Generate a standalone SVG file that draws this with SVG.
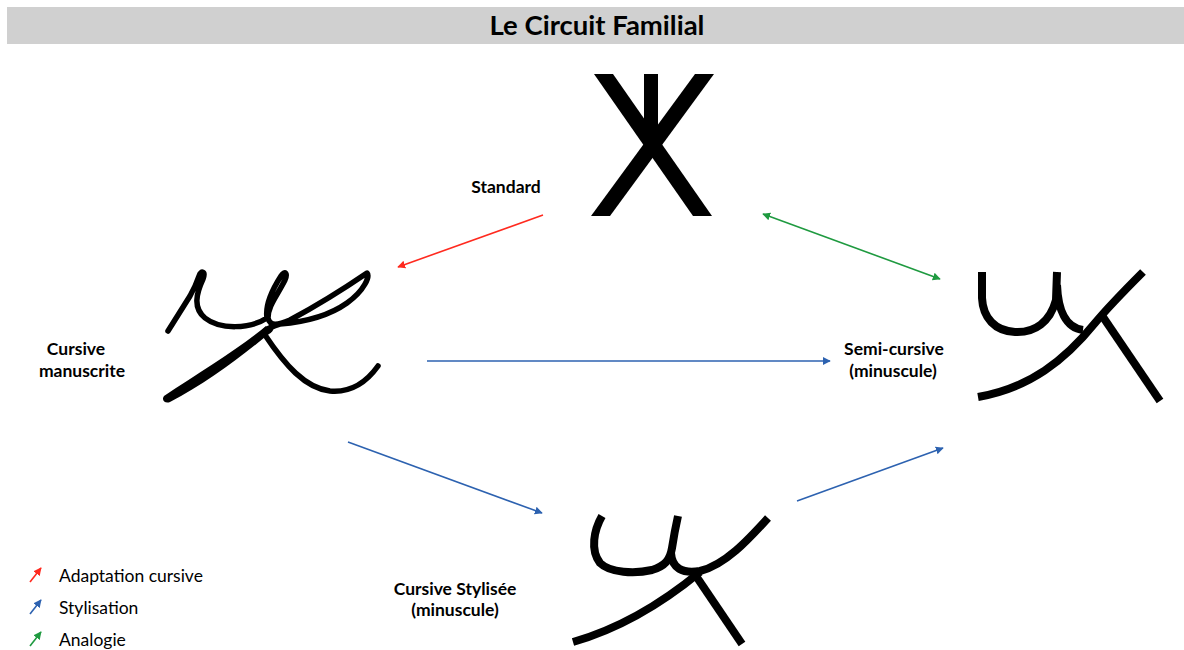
<svg xmlns="http://www.w3.org/2000/svg" width="1184" height="650" viewBox="0 0 1184 650">
<defs>
<marker id="mr" viewBox="0 0 10 10" refX="9" refY="5" markerWidth="5" markerHeight="5" orient="auto-start-reverse"><path d="M0,0 L10,5 L0,10 Z" fill="#ff2a1f"/></marker>
<marker id="mb" viewBox="0 0 10 10" refX="9" refY="5" markerWidth="5" markerHeight="5" orient="auto-start-reverse"><path d="M0,0 L10,5 L0,10 Z" fill="#2d62b0"/></marker>
<marker id="mg" viewBox="0 0 10 10" refX="9" refY="5" markerWidth="5" markerHeight="5" orient="auto-start-reverse"><path d="M0,0 L10,5 L0,10 Z" fill="#1f9a40"/></marker>
</defs>
<style>
.lbl{font-family:Lato,"Liberation Sans",sans-serif;font-weight:bold;font-size:17.5px;fill:#000;text-anchor:middle}
.leg{font-family:Lato,"Liberation Sans",sans-serif;font-size:17.5px;fill:#000}
.g{fill:none;stroke:#000;stroke-linejoin:round}
.red{stroke:#ff2a1f;stroke-width:1.6;fill:none}
.blue{stroke:#2d62b0;stroke-width:1.6;fill:none}
.green{stroke:#1f9a40;stroke-width:1.6;fill:none}
</style>
<rect width="1184" height="650" fill="#fff"/>
<g id="title">
<rect x="7" y="7" width="1177" height="37" fill="#d0d0d0"/>
<text x="597" y="35" font-family="Lato,'Liberation Sans',sans-serif" font-weight="bold" font-size="27.5" text-anchor="middle">Le Circuit Familial</text>
</g>
<g id="connectors">
<line class="red" x1="543" y1="215" x2="398" y2="267" marker-end="url(#mr)"/>
<line class="green" x1="763" y1="214" x2="940" y2="279" marker-start="url(#mg)" marker-end="url(#mg)"/>
<line class="blue" x1="427" y1="361" x2="830" y2="361" marker-end="url(#mb)"/>
<line class="blue" x1="348" y1="442" x2="542" y2="513" marker-end="url(#mb)"/>
<line class="blue" x1="797" y1="501" x2="943" y2="448" marker-end="url(#mb)"/>
</g>
<g id="standard">
<polygon points="594,74 613,74 712,216 693,216" fill="#000"/>
<polygon points="695,74 714,74 610,216 591,216" fill="#000"/>
<rect x="644" y="74" width="14" height="82" fill="#000"/>
<text class="lbl" x="506" y="193">Standard</text>
</g>
<g id="cursive-manuscrite">
<g class="g" stroke-width="5.5" stroke-linecap="round">
<path d="M168,331 L190,296 C195,287 197,282 199,276 C201,270 206,271 203,279 C196,294 193,308 205,318 C220,330 250,329 267,318 C265,305 272,290 281,276 C285,270 288,273 285,280 C277,296 268,306 268,318 C270,327 278,325 290,320 C318,305 345,288 367,273 C370,276 365,290 347,303 C330,315 305,322 280,324 C272,326 268,328 266,333"/>
<path d="M265,335 C285,365 305,388 330,391 C352,393 368,380 378,366"/>
</g>
<path d="M164,396 C200,372 240,348 266,326 L271,332 C240,358 205,384 170,402 C165,404 161,400 164,396 Z" fill="#000"/>
<ellipse cx="268" cy="330" rx="6" ry="4" transform="rotate(-35 268 330)" fill="#000"/>
<text class="lbl" x="76" y="355">Cursive</text>
<text class="lbl" x="82" y="377">manuscrite</text>
</g>
<g id="semi-cursive">
<g class="g" stroke-width="8" stroke-linecap="butt">
<path d="M982,272 L982,298 C983,318 995,331 1015,332 C1035,333 1050,322 1056,300 L1057,272"/>
<path d="M1057,285 C1058,310 1066,328 1083,330"/>
<path d="M978,397 C1030,388 1065,360 1095,323 C1110,305 1125,290 1143,272"/>
<line x1="1103" y1="317" x2="1160" y2="401"/>
</g>
<text class="lbl" x="894" y="355">Semi-cursive</text>
<text class="lbl" x="893" y="377">(minuscule)</text>
</g>
<g id="cursive-stylisee">
<g class="g" stroke-width="8" stroke-linecap="butt">
<path d="M602,516 C594,530 590,550 600,563 C610,573 635,574 652,570 C665,566 670,560 672,548 C674,535 676,525 678,516"/>
<path d="M671,553 C672,568 682,574 700,571 C725,565 748,540 768,518"/>
<path d="M573,642 C615,630 660,605 700,572"/>
<line x1="696" y1="576" x2="742" y2="644"/>
</g>
<text class="lbl" x="455" y="595">Cursive Stylisée</text>
<text class="lbl" x="455" y="616">(minuscule)</text>
</g>
<g id="legend">
<line class="red" x1="30" y1="582" x2="41" y2="568" marker-end="url(#mr)"/>
<line class="blue" x1="30" y1="614" x2="41" y2="600" marker-end="url(#mb)"/>
<line class="green" x1="30" y1="646" x2="41" y2="632" marker-end="url(#mg)"/>
<text class="leg" x="59" y="582">Adaptation cursive</text>
<text class="leg" x="59" y="614">Stylisation</text>
<text class="leg" x="59" y="646">Analogie</text>
</g>
</svg>
